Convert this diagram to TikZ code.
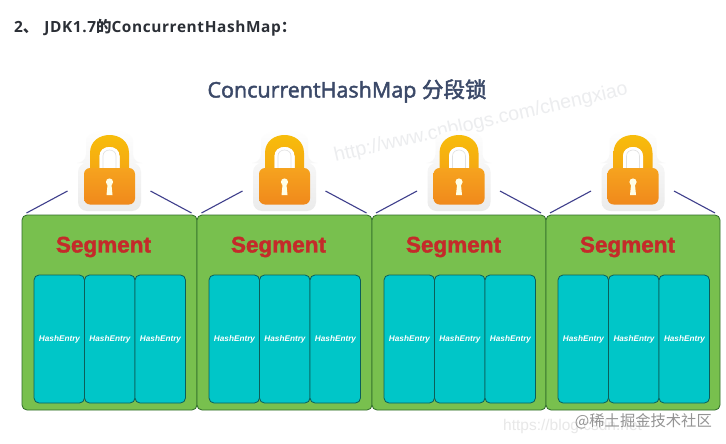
\documentclass[tikz,border=0pt]{standalone}
\usepackage{fontspec}
\setmainfont{Open Sans}
\newfontfamily\cjk{Noto Sans CJK SC}
\newfontfamily\seg{Liberation Sans}
\newfontfamily\ttl{Open Sans}
\newfontfamily\headfont[LetterSpace=4]{Open Sans}
\newcommand{\heavytext}[2]{\special{pdf:code 2 Tr #1 w}#2\special{pdf:code 0 Tr}}
\definecolor{segfill}{HTML}{78C04E}
\definecolor{segline}{HTML}{2F6B2A}
\definecolor{cellfill}{HTML}{00C6C8}
\definecolor{cellline}{HTML}{0B5E5A}
\definecolor{wire}{HTML}{3F3F8C}
\definecolor{segred}{HTML}{C42A2A}
\definecolor{titleink}{HTML}{3B4968}
\definecolor{headink}{HTML}{2B2F36}
\definecolor{markgray}{HTML}{ECEDEF}
\definecolor{shackletop}{HTML}{F8C00A}
\definecolor{shacklebot}{HTML}{F5A812}
\definecolor{bodytop}{HTML}{F6A31E}
\definecolor{bodybot}{HTML}{F0891C}
\definecolor{platebot}{HTML}{EBEBEB}
\tikzset{
  x=1pt,y=-1pt,
  segbox/.style={draw=segline,fill=segfill,rounded corners=5pt,line width=0.8pt},
  cellbox/.style={draw=cellline,fill=cellfill,rounded corners=5pt,line width=0.8pt},
  cable/.style={draw=wire,line width=1.1pt},
  seglabel/.style={font=\seg\bfseries\fontsize{22.5}{24}\selectfont,text=segred,inner sep=0pt},
  celllabel/.style={font=\seg\bfseries\itshape\fontsize{8.2}{9}\selectfont,text=white,inner sep=0pt},
}
\begin{document}
\begin{tikzpicture}
\useasboundingbox (0,0) rectangle (726,444);
\fill[white] (0,0) rectangle (726,444);
\node[anchor=west,inner sep=0pt,text=headink,font=\headfont\bfseries\fontsize{15.4}{17}\selectfont] (head) at (14,28) {2{\cjk\bfseries 、}\hspace{6pt}JDK1.7{\cjk\bfseries 的}ConcurrentHashMap{\cjk\bfseries ：}};
\node[anchor=center,inner sep=0pt,text=titleink,font=\ttl\fontsize{21.5}{24}\selectfont] (title) at (347,91) {\color{titleink}\heavytext{0.45}{ConcurrentHashMap {\cjk 分段锁}}};
\node[inner sep=0pt,rotate=13,text=markgray,font=\seg\fontsize{19.6}{21}\selectfont] (mark1) at (481,123) {http://www.cnblogs.com/chengxiao};
\foreach \i/\bx/\cx/\lx in {1/22/34/109.5,2/197/209/284.5,3/372/384/459,4/546/558/633}{
  \pgfmathsetmacro{\bw}{\i>2 ? 174 : 175}
  \draw[segbox] (\bx,215) rectangle (\bx+\bw,410);
  \node[seglabel] (seg\i) at (\cx+69.5,247) {\color{segred}\heavytext{0.35}{Segment}};
  \foreach \j in {0,1,2}{
    \draw[cellbox] (\cx+\j*50.5,275) rectangle (\cx+\j*50.5+50.5,403);
    \node[celllabel] (cell\i\j) at (\cx+\j*50.5+25.5,339.5) {HashEntry};
  }
  \coordinate (la\i) at (\lx-83,213);
  \coordinate (lb\i) at (\lx-42,191);
  \coordinate (lc\i) at (\lx+41,191);
  \coordinate (ld\i) at (\lx+82,213);
  \draw[cable] (la\i) -- (lb\i);
  \draw[cable] (lc\i) -- (ld\i);
  \begin{scope}[shift={(\lx,0)}]
    % white plate
    \shade[top color=white,bottom color=platebot,rounded corners=9pt]
      (-31.5,211) -- (-31.5,163) -- (-23.5,163) -- (-23.5,150)
      .. controls (-23.5,127) and (23.5,127) .. (23.5,150) -- (23.5,163) -- (31.5,163) -- (31.5,211) -- cycle;
    % shackle
    \shade[top color=shackletop,bottom color=shacklebot,even odd rule]
      (-19.5,170) -- (-19.5,153) .. controls (-19.5,129) and (19.5,129) .. (19.5,153) -- (19.5,170) -- cycle
      (-10,168) -- (10,168) -- (10,156) .. controls (10,144) and (-10,144) .. (-10,156) -- cycle;
    \fill[white] (-10,168) -- (10,168) -- (10,156) .. controls (10,144) and (-10,144) .. (-10,156) -- cycle;
    \draw[black!12,line width=0.6pt] (-6.5,168) -- (-6.5,156) .. controls (-6.5,148) and (6.5,148) .. (6.5,156) -- (6.5,168);
    % body
    \shade[top color=bodytop,bottom color=bodybot,rounded corners=6pt]
      (-25.5,168) rectangle (25.5,204.5);
    % keyhole
    \fill[white!90!yellow] (0,182) circle[radius=3.6];
    \fill[white!90!yellow] (-1.8,183) -- (1.8,183) -- (3,195) -- (-3,195) -- cycle;
  \end{scope}
}
\node[inner sep=0pt,anchor=west,text=black!9,font=\seg\fontsize{15.5}{17}\selectfont] (mark2) at (503,426) {https://blog.csdn.net};
\node[inner sep=0pt,anchor=east,text=black!42,font=\cjk\fontsize{15.3}{17}\selectfont] (mark3) at (712,421) {@稀土掘金技术社区};
\end{tikzpicture}
\end{document}
